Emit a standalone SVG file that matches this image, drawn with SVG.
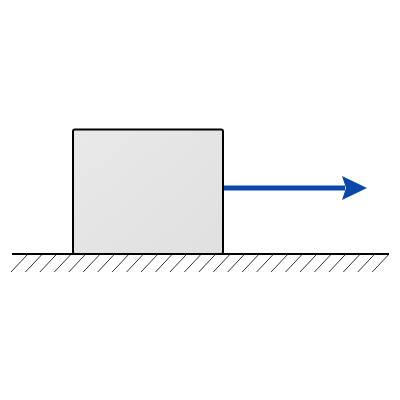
<svg xmlns="http://www.w3.org/2000/svg" width="400" height="400" viewBox="0 0 400 400">
<defs>
<linearGradient id="g" x1="0" y1="0" x2="1" y2="1">
<stop offset="0" stop-color="#e9e9e9"/>
<stop offset="1" stop-color="#e0e0e0"/>
</linearGradient>
<marker id="ah" viewBox="0 0 25 24" refX="3" refY="12" markerWidth="25" markerHeight="24" markerUnits="userSpaceOnUse" orient="auto">
<path d="M0,0 L25,12 L0,24 L4,12 Z" fill="#0a47a8"/>
</marker>
<style>
.hatch{stroke:#333;stroke-width:1;}
</style>
</defs>
<rect width="400" height="400" fill="#fff"/>
<g id="ground">
<g id="hatches" class="hatch">
<path d="M27,255 l-16,17 M41.45,255 l-16,17 M55.9,255 l-16,17 M70.35,255 l-16,17 M84.8,255 l-16,17 M99.25,255 l-16,17 M113.7,255 l-16,17 M128.15,255 l-16,17 M142.6,255 l-16,17 M157.05,255 l-16,17 M171.5,255 l-16,17 M185.95,255 l-16,17 M200.4,255 l-16,17 M214.85,255 l-16,17 M229.3,255 l-16,17 M243.75,255 l-16,17 M258.2,255 l-16,17 M272.65,255 l-16,17 M287.1,255 l-16,17 M301.55,255 l-16,17 M316,255 l-16,17 M330.45,255 l-16,17 M344.9,255 l-16,17 M359.35,255 l-16,17 M373.8,255 l-16,17 M388.25,255 l-16,17"/>
</g>
<line x1="12" y1="254" x2="389" y2="254" stroke="#000" stroke-width="2"/>
</g>
<g id="block">
<rect x="73" y="129.5" width="150" height="124.5" rx="2" fill="url(#g)" stroke="#000" stroke-width="2"/>
</g>
<g id="connectors">
<line x1="224" y1="188" x2="345" y2="188" stroke="#0a47a8" stroke-width="5" marker-end="url(#ah)"/>
</g>
</svg>
